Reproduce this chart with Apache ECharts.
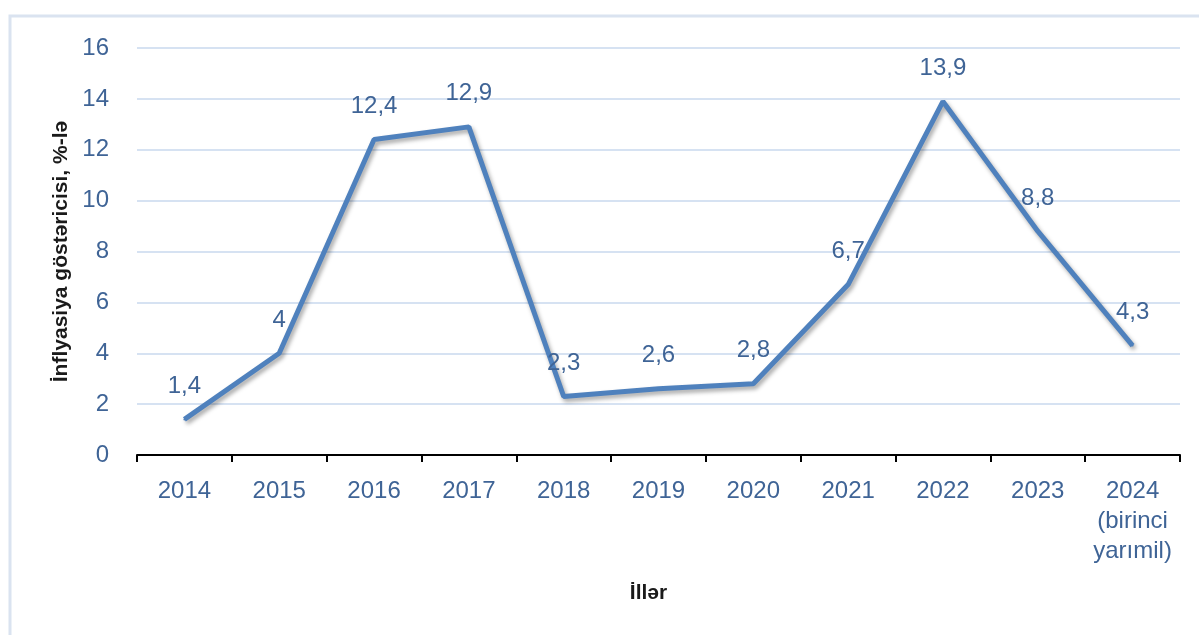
<!DOCTYPE html>
<html>
<head>
<meta charset="utf-8">
<script src="https://cdn.jsdelivr.net/npm/echarts@6/dist/echarts.min.js"></script>
<style>
  html, body { margin: 0; padding: 0; background: #fff; }
  #chart { width: 1199px; height: 635px; }
</style>
</head>
<body>
<div id="chart"></div>
<script>
// illər və inflyasiya göstəricisi
var years = ['2014', '2015', '2016', '2017', '2018', '2019', '2020', '2021', '2022', '2023', '2024\n(birinci\nyarımil)']
var inflation = [1.4, 4, 12.4, 12.9, 2.3, 2.6, 2.8, 6.7, 13.9, 8.8, 4.3]
var yTicks = [0, 2, 4, 6, 8, 10, 12, 14, 16]

var textBlue = '#3f6496'
var fontFam = '"Liberation Sans", Arial, sans-serif'

var chart = echarts.init(document.getElementById('chart'))
var option = {
    backgroundColor: '#fff',
    animation: false,
    textStyle: { fontFamily: fontFam },
    graphic: [{
        type: 'rect',
        shape: { x: 10, y: 16, width: 1400, height: 800 },
        style: { fill: 'none', stroke: '#dae3f0', lineWidth: 3 },
        silent: true
    }],
    grid: { left: 137, right: 19, top: 48, bottom: 180 },
    xAxis: {
        type: 'category',
        data: years,
        boundaryGap: true,
        name: 'İllər',
        nameLocation: 'middle',
        nameGap: 128,
        nameTextStyle: { color: '#1a1a1a', fontSize: 21, fontWeight: 'bold', fontFamily: fontFam, padding: [0, 20, 0, 0] },
        axisLine: { lineStyle: { color: '#000', width: 2 } },
        axisTick: { show: true, length: 7, lineStyle: { color: '#000', width: 2 } },
        axisLabel: {
            color: textBlue,
            fontSize: 24,
            lineHeight: 30,
            margin: 21,
            verticalAlign: 'top',
            interval: 0
        }
    },
    yAxis: {
        type: 'value',
        min: yTicks[0],
        max: yTicks[yTicks.length - 1],
        interval: 2,
        name: 'İnflyasiya göstəricisi, %-lə',
        nameLocation: 'middle',
        nameGap: 61,
        nameTextStyle: { color: '#1a1a1a', fontSize: 21, fontWeight: 'bold', fontFamily: fontFam },
        axisLine: { show: false },
        axisTick: { show: false },
        axisLabel: { color: textBlue, fontSize: 24, margin: 28 },
        splitLine: { show: true, lineStyle: { color: '#d6e2f2', width: 2 } }
    },
    series: [{
        type: 'line',
        data: inflation,
        symbol: 'circle',
        symbolSize: 2,
        showSymbol: true,
        lineStyle: {
            color: '#4f81bd',
            width: 5,
            shadowColor: 'rgba(0,0,0,0.35)',
            shadowBlur: 4,
            shadowOffsetX: 2,
            shadowOffsetY: 3
        },
        itemStyle: { color: '#4f81bd' },
        label: {
            show: true,
            position: 'top',
            distance: 20,
            color: textBlue,
            fontSize: 24,
            formatter: function (p) {
                return String(p.value).replace('.', ',')
            }
        }
    }]
}
chart.setOption(option)
</script>
</body>
</html>
